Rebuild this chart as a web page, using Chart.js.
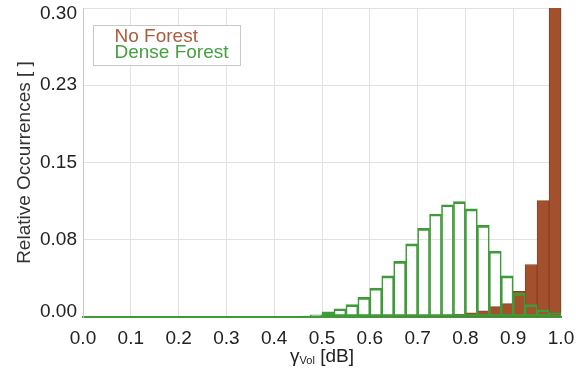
<!DOCTYPE html>
<html>
<head>
<meta charset="utf-8">
<script src="https://cdn.jsdelivr.net/npm/chart.js@4.4.1/dist/chart.umd.min.js"></script>
<style>
  html, body { margin: 0; padding: 0; background: #fff; }
</style>
</head>
<body>
<canvas id="chart" width="576" height="372"></canvas>
<script>
// histogram bins of 0.025 (centres)
const binCenters = [
  0.0125, 0.0375, 0.0625, 0.0875, 0.1125, 0.1375, 0.1625, 0.1875, 0.2125, 0.2375,
  0.2625, 0.2875, 0.3125, 0.3375, 0.3625, 0.3875, 0.4125, 0.4375, 0.4625, 0.4875,
  0.5125, 0.5375, 0.5625, 0.5875, 0.6125, 0.6375, 0.6625, 0.6875, 0.7125, 0.7375,
  0.7625, 0.7875, 0.8125, 0.8375, 0.8625, 0.8875, 0.9125, 0.9375, 0.9625, 0.9875
];

const denseForest = [
  0, 0, 0, 0, 0, 0, 0, 0, 0, 0,
  0, 0, 0, 0, 0, 0, 0.0002, 0.0005, 0.001, 0.002,
  0.005, 0.008, 0.012, 0.019, 0.028, 0.040, 0.054, 0.071, 0.086, 0.100,
  0.109, 0.112, 0.105, 0.089, 0.064, 0.040, 0.023, 0.012, 0.007, 0.004
];

const noForest = [
  0, 0, 0, 0, 0, 0, 0, 0, 0, 0,
  0, 0, 0, 0, 0, 0, 0, 0, 0, 0,
  0, 0, 0, 0, 0.0003, 0.0005, 0.0007, 0.001, 0.0012, 0.0016,
  0.002, 0.0025, 0.004, 0.006, 0.010, 0.013, 0.025, 0.051, 0.113, 0.31
];

const yTickLabels = ['0.00', '0.08', '0.15', '0.23', '0.30'];

const seriesNames = ['No Forest', 'Dense Forest'];

const brown = '#a3502c';
const green = '#3f9a38';
const fontFamily = "'Liberation Sans', Arial, sans-serif";
const fontSize = 19;

// legend box inside the plot + x title with subscript
const extras = {
  id: 'extras',
  afterDraw(chart) {
    const { ctx, chartArea } = chart;
    ctx.save();

    const bx = chartArea.left + 10.5, by = chartArea.top + 17.5;
    ctx.fillStyle = '#fff';
    ctx.fillRect(bx, by, 147, 40);
    ctx.strokeStyle = '#c8c8c8';
    ctx.lineWidth = 1;
    ctx.strokeRect(bx, by, 147, 40);

    ctx.font = fontSize + 'px ' + fontFamily;
    ctx.textBaseline = 'alphabetic';
    ctx.textAlign = 'left';
    ctx.fillStyle = '#a85d3e';
    ctx.fillText(seriesNames[0], bx + 21, by + 16);
    ctx.fillStyle = '#45a040';
    ctx.fillText(seriesNames[1], bx + 21, by + 32);

    // x axis title: γ_Vol [dB]
    const big = fontSize + 'px ' + fontFamily, small = '11px ' + fontFamily;
    ctx.fillStyle = '#222';
    ctx.font = big;
    const w1 = ctx.measureText('γ').width;
    const w3 = ctx.measureText(' [dB]').width;
    ctx.font = small;
    const w2 = ctx.measureText('Vol').width;
    let x = (chartArea.left + chartArea.right) / 2 - (w1 + w2 + w3) / 2;
    const y = 362;
    ctx.font = big;
    ctx.fillText('γ', x, y);
    x += w1;
    ctx.font = small;
    ctx.fillText('Vol', x, y + 2);
    x += w2;
    ctx.font = big;
    ctx.fillText(' [dB]', x, y);

    ctx.restore();
  }
};

const ctx = document.getElementById('chart').getContext('2d');
const lastY = yTickLabels.length - 1;

new Chart(ctx, {
  type: 'bar',
  data: {
    datasets: [
      {
        label: seriesNames[1],
        data: binCenters.map((x, i) => ({ x: x, y: denseForest[i] })),
        backgroundColor: 'rgba(0,0,0,0)',
        borderColor: green,
        borderWidth: { top: 2, bottom: 2, left: 1, right: 1 },
        borderSkipped: false,
        grouped: false,
        order: 0,
        barPercentage: 1,
        categoryPercentage: 1
      },
      {
        label: seriesNames[0],
        data: binCenters.map((x, i) => ({ x: x, y: noForest[i] })),
        backgroundColor: brown,
        borderColor: '#8a4124',
        borderWidth: 1,
        borderSkipped: false,
        grouped: false,
        order: 1,
        barPercentage: 1,
        categoryPercentage: 1
      }
    ]
  },
  options: {
    responsive: false,
    animation: false,
    layout: { padding: { top: 8, right: 15, left: 0, bottom: 0 } },
    plugins: {
      legend: { display: false },
      tooltip: { enabled: false }
    },
    scales: {
      x: {
        type: 'linear',
        min: 0,
        max: 1,
        offset: false,
        grid: { offset: false, color: '#e2e2e2', drawTicks: false },
        border: { color: green, width: 2 },
        ticks: {
          stepSize: 0.1,
          padding: 10,
          color: '#222',
          font: { family: fontFamily, size: fontSize },
          maxRotation: 0,
          callback: (v) => v.toFixed(1)
        },
        afterFit: (scale) => {
          scale.height = 55;
          scale.paddingLeft = 0;
          scale.paddingRight = 0;
        }
      },
      y: {
        min: 0,
        max: 0.3,
        grid: { color: '#e2e2e2', drawTicks: false },
        border: { color: '#c8c8c8' },
        ticks: {
          stepSize: 0.075,
          padding: 6,
          color: '#222',
          // end labels are nudged inside the plot, as in the original
          font: (c) => ({
            family: fontFamily,
            size: fontSize,
            lineHeight: (c.index === 0 || c.index === lastY) ? 0.6 : 1.2
          }),
          callback: (v, i) => {
            if (i === 0) return [yTickLabels[i], ''];
            if (i === lastY) return ['', yTickLabels[i]];
            return yTickLabels[i];
          }
        },
        title: {
          display: true,
          text: 'Relative Occurrences [ ]',
          color: '#333',
          font: { family: fontFamily, size: fontSize },
          padding: { top: 13, bottom: 0 }
        },
        afterFit: (scale) => {
          scale.width = 83;
          scale.paddingTop = 0;
          scale.paddingBottom = 0;
        }
      }
    }
  },
  plugins: [extras]
});
</script>
</body>
</html>
